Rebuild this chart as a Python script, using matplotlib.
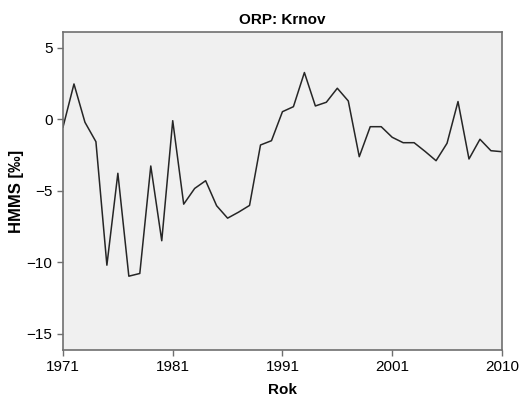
import numpy as np
import matplotlib
matplotlib.use("Agg")
import matplotlib.pyplot as plt

plt.rcParams['font.family'] = ['Liberation Sans', 'DejaVu Sans']

# HMMS values, one per year category (41 categories on the axis)
hmms = [-0.55, 2.47, -0.21, -1.57, -10.21, -3.78, -10.98, -10.79, -3.27, -8.50,
        -0.10, -5.94, -4.84, -4.30, -6.05, -6.92, -6.50, -6.03, -1.80, -1.50,
        0.53, 0.88, 3.27, 0.93, 1.19, 2.17, 1.28, -2.62, -0.52, -0.52,
        -1.26, -1.64, -1.64, -2.25, -2.90, -1.68, 1.24, -2.78, -1.40, -2.20,
        -2.27]
tick_pos = [0, 10, 20, 30, 40]
tick_labels = ['1971', '1981', '1991', '2001', '2010']
y_ticks = [5, 0, -5, -10, -15]

fig = plt.figure(figsize=(5.25, 4.01), dpi=100)
ax = fig.add_axes([0.12, 0.127, 0.836, 0.793])
ax.set_facecolor('#f0f0f0')

x = np.arange(len(hmms))
ax.plot(x, hmms, color='#262626', linewidth=1.1)

ax.set_xlim(0, 40)
ax.set_ylim(-16.15, 6.1)
ax.set_xticks(tick_pos)
ax.set_xticklabels(tick_labels)
ax.set_yticks(y_ticks)

for s in ax.spines.values():
    s.set_color('#6f6f6f')
    s.set_linewidth(1.2)
ax.tick_params(colors='#6f6f6f', labelcolor='black', labelsize=11, length=4, width=1)

ax.set_title('ORP: Krnov', fontsize=11, fontweight='bold', pad=6)
ax.set_xlabel('Rok', fontsize=11, fontweight='bold', labelpad=6)
ax.set_ylabel('HMMS [‰]', fontsize=12, fontweight='bold', labelpad=2)

fig.savefig('out.png', dpi=100)
